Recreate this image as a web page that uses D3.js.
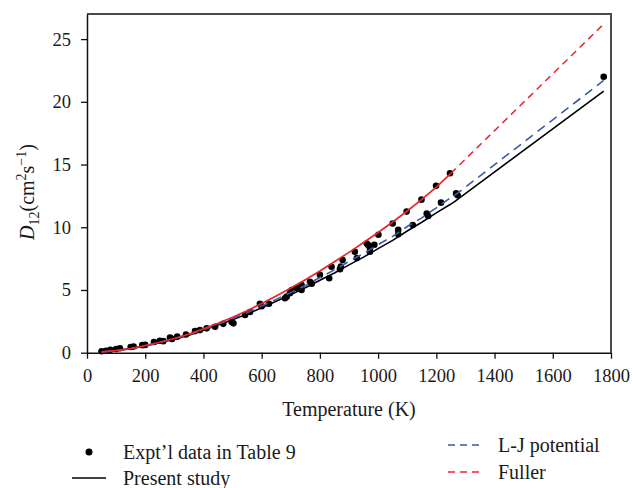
<!DOCTYPE html>
<html>
<head>
<meta charset="utf-8">
<script src="https://cdn.jsdelivr.net/npm/d3@7/dist/d3.min.js"></script>
<style>
  html, body { margin: 0; padding: 0; background: #fff; }
  svg { display: block; }
  text { font-family: "Liberation Serif", "DejaVu Serif", serif; fill: #1a1a1a; }
</style>
</head>
<body>
<svg id="chart" width="633" height="488"></svg>
<script>
// Diffusion coefficient D12 versus temperature

// Experimental points (Table 9): temperature (K) and D12 (cm^2 s^-1)
const exptT = [50, 65, 80, 100, 113, 150, 160, 190, 200, 230, 250, 262, 285, 292, 310, 340, 371, 388, 411, 440, 468, 497, 503, 543, 560, 594, 600, 625, 680, 686, 697, 703, 720, 737, 737, 766, 772, 800, 832, 840, 869, 872, 878, 920, 927, 961, 966, 972, 972, 987, 1001, 1050, 1069, 1069, 1098, 1119, 1149, 1167, 1172, 1199, 1216, 1247, 1268, 1273, 1775];
const exptD = [0.12, 0.16, 0.24, 0.3, 0.36, 0.45, 0.5, 0.6, 0.62, 0.85, 0.95, 0.92, 1.2, 1.1, 1.28, 1.45, 1.72, 1.8, 1.94, 2.07, 2.3, 2.45, 2.34, 3.0, 3.25, 3.9, 3.7, 3.9, 4.34, 4.47, 4.74, 5.0, 5.15, 5.4, 5.0, 5.66, 5.5, 6.2, 5.93, 6.85, 6.65, 6.86, 7.39, 8.05, 7.55, 8.7, 8.59, 8.33, 8.05, 8.6, 9.4, 10.3, 9.79, 9.44, 11.25, 10.18, 12.2, 11.1, 10.9, 13.3, 11.96, 14.3, 12.7, 12.55, 22.0];

// Present study
const presentT = [50, 100, 150, 200, 250, 300, 350, 400, 450, 500, 550, 600, 650, 700, 750, 800, 850, 900, 950, 1000, 1050, 1100, 1150, 1200, 1250, 1265, 1775];
const presentD = [0.06, 0.17, 0.32, 0.54, 0.79, 1.08, 1.4, 1.79, 2.2, 2.63, 3.08, 3.58, 4.1, 4.63, 5.18, 5.78, 6.36, 7.0, 7.62, 8.3, 8.95, 9.7, 10.4, 11.15, 11.85, 12.08, 20.85];

// L-J potential
const ljT = [50, 100, 150, 200, 250, 300, 350, 400, 450, 500, 550, 600, 650, 700, 750, 800, 850, 900, 950, 1000, 1050, 1100, 1150, 1200, 1250, 1275, 1775];
const ljD = [0.06, 0.17, 0.33, 0.55, 0.81, 1.11, 1.44, 1.84, 2.26, 2.72, 3.18, 3.72, 4.25, 4.79, 5.35, 6.0, 6.6, 7.28, 7.9, 8.62, 9.27, 10.06, 10.75, 11.55, 12.37, 12.75, 21.7];

// Fuller (tabulated range, then extrapolated segment)
const fullerT = [50, 100, 150, 200, 250, 300, 350, 400, 450, 500, 550, 600, 650, 700, 750, 800, 850, 900, 950, 1000, 1050, 1100, 1150, 1200, 1250];
const fullerD = [0.06, 0.17, 0.33, 0.56, 0.83, 1.13, 1.48, 1.9, 2.35, 2.83, 3.35, 3.92, 4.52, 5.15, 5.82, 6.52, 7.25, 8.0, 8.78, 9.58, 10.42, 11.3, 12.22, 13.2, 14.3];
const fullerExtT = [1250, 1775];
const fullerExtD = [14.3, 26.2];

// Axis ticks
const xTicks = [0, 200, 400, 600, 800, 1000, 1200, 1400, 1600, 1800];
const yTicks = [0, 5, 10, 15, 20, 25];

const legendLabels = ["Expt\u2019l data in Table 9", "Present study", "L-J potential", "Fuller"];

const colors = { expt: "#000", present: "#000", lj: "#3d5aa6", fuller: "#e8262b" };

const svg = d3.select("#chart");
const plot = { left: 87, top: 14, right: 611, bottom: 352.7 };

const x = d3.scaleLinear().domain([0, 1800]).range([plot.left, plot.right]);
const y = d3.scaleLinear().domain([0, 27]).range([plot.bottom, plot.top]);

// Frame: top and right edges
svg.append("path")
  .attr("d", `M${plot.left},${plot.top}H${plot.right}V${plot.bottom}`)
  .attr("fill", "none").attr("stroke", "#4a4a4a").attr("stroke-width", 2);

// Axes
const xAxis = svg.append("g")
  .attr("transform", `translate(0,${plot.bottom})`)
  .call(d3.axisBottom(x).tickValues(xTicks).tickFormat(d3.format("d"))
    .tickSize(6).tickSizeOuter(0).tickPadding(10));
const yAxis = svg.append("g")
  .attr("transform", `translate(${plot.left},0)`)
  .call(d3.axisLeft(y).tickValues(yTicks).tickFormat(d3.format("d"))
    .tickSize(6).tickSizeOuter(0).tickPadding(10));

[xAxis, yAxis].forEach(g => {
  g.select(".domain").attr("stroke", "#111").attr("stroke-width", 1.5);
  g.selectAll(".tick line").attr("stroke", "#111").attr("stroke-width", 1.3);
  g.selectAll(".tick text")
    .style("font-family", "'Liberation Serif', serif")
    .style("font-size", "18.5px").attr("fill", "#1a1a1a");
});

// Axis titles
svg.append("text")
  .attr("x", (plot.left + plot.right) / 2).attr("y", 416)
  .attr("text-anchor", "middle").style("font-size", "20px")
  .text("Temperature (K)");

const yTitle = svg.append("text")
  .attr("transform", "translate(34,192) rotate(-90)")
  .attr("text-anchor", "middle").style("font-size", "20px");
yTitle.append("tspan").style("font-style", "italic").text("D");
yTitle.append("tspan").attr("dy", 5).style("font-size", "14px").text("12");
yTitle.append("tspan").attr("dy", -5).text("(cm");
yTitle.append("tspan").attr("dy", -8).style("font-size", "14px").text("2");
yTitle.append("tspan").attr("dy", 8).text("s");
yTitle.append("tspan").attr("dy", -8).style("font-size", "14px").text("\u22121");
yTitle.append("tspan").attr("dy", 8).text(")");

// Experimental points
svg.append("g").selectAll("circle")
  .data(d3.zip(exptT, exptD))
  .join("circle")
  .attr("cx", d => x(d[0])).attr("cy", d => y(d[1]))
  .attr("r", 3.3).attr("fill", colors.expt);

const line = d3.line().x(d => x(d[0])).y(d => y(d[1])).curve(d3.curveLinear);

svg.append("path").datum(d3.zip(presentT, presentD))
  .attr("d", line).attr("fill", "none")
  .attr("stroke", colors.present).attr("stroke-width", 1.6);

svg.append("path").datum(d3.zip(ljT, ljD))
  .attr("d", line).attr("fill", "none")
  .attr("stroke", colors.lj).attr("stroke-width", 1.6)
  .attr("stroke-dasharray", "9,6");

svg.append("path").datum(d3.zip(fullerT, fullerD))
  .attr("d", line).attr("fill", "none")
  .attr("stroke", colors.fuller).attr("stroke-width", 1.7);

svg.append("path").datum(d3.zip(fullerExtT, fullerExtD))
  .attr("d", line).attr("fill", "none")
  .attr("stroke", colors.fuller).attr("stroke-width", 1.5)
  .attr("stroke-dasharray", "7,5");

// Legend
const leg = svg.append("g").style("font-size", "20px");
leg.append("circle").attr("cx", 89).attr("cy", 452).attr("r", 3.5).attr("fill", colors.expt);
leg.append("text").attr("x", 123).attr("y", 459).text(legendLabels[0]);
leg.append("line").attr("x1", 72).attr("x2", 106).attr("y1", 478).attr("y2", 478)
  .attr("stroke", colors.present).attr("stroke-width", 1.4);
leg.append("text").attr("x", 123).attr("y", 485).text(legendLabels[1]);
leg.append("line").attr("x1", 448).attr("x2", 484).attr("y1", 445).attr("y2", 445)
  .attr("stroke", colors.lj).attr("stroke-width", 1.4).attr("stroke-dasharray", "7,5");
leg.append("text").attr("x", 498).attr("y", 452).text(legendLabels[2]);
leg.append("line").attr("x1", 448).attr("x2", 484).attr("y1", 472).attr("y2", 472)
  .attr("stroke", colors.fuller).attr("stroke-width", 1.4).attr("stroke-dasharray", "7,5");
leg.append("text").attr("x", 498).attr("y", 479).text(legendLabels[3]);
</script>
</body>
</html>
